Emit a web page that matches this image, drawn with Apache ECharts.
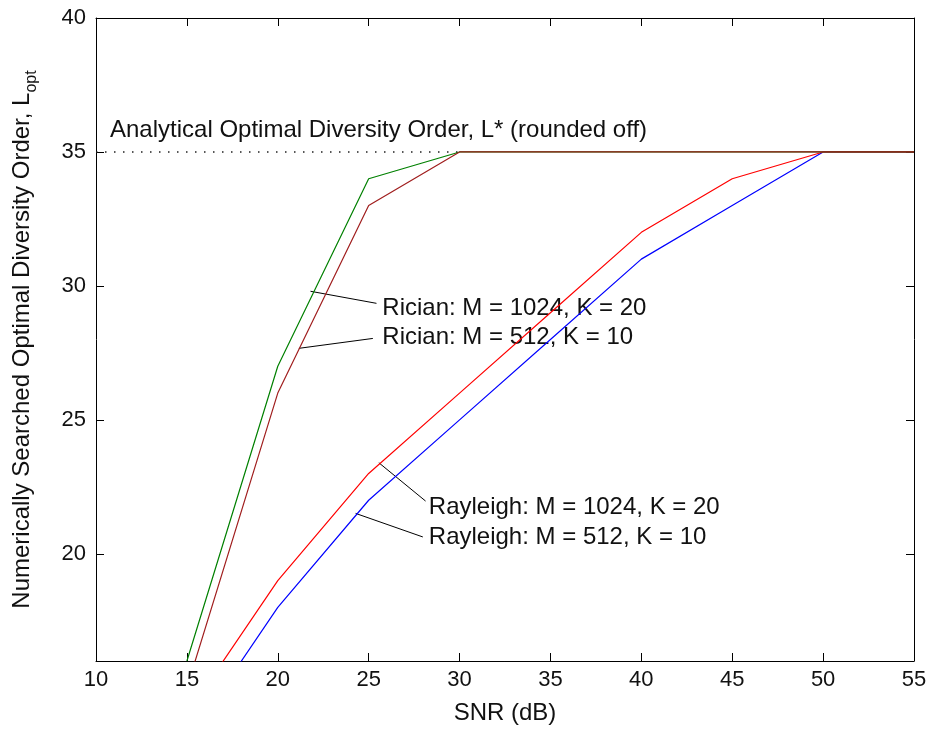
<!DOCTYPE html>
<html>
<head>
<meta charset="utf-8">
<script src="https://cdn.jsdelivr.net/npm/echarts@6/dist/echarts.min.js"></script>
<style>
  html, body { margin: 0; padding: 0; background: #fff; }
  #chart { width: 930px; height: 732px; }
</style>
</head>
<body>
<div id="chart"></div>
<script>
// SNR (dB) sample points
const snr = [15, 20, 25, 30, 35, 40, 45, 50, 55]
// numerically searched optimal diversity order L_opt
const ricianM1024 = [16, 27, 34, 35, 35, 35, 35, 35, 35]
const ricianM512 = [15, 26, 33, 35, 35, 35, 35, 35, 35]
const rayleighM1024 = [14, 19, 23, 26, 29, 32, 34, 35, 35]
const rayleighM512 = [13, 18, 22, 25, 28, 31, 33, 35, 35]
// analytical optimum L* (dotted reference)
const analyticalSnr = [10, 30]
const analyticalL = 35
const yTicks = [20, 25, 30, 35, 40]

// annotation texts, leader lines in data coords
const notes = [
  { text: 'Rician: M = 1024, K = 20', from: [21.8, 29.8], to: [25.43, 29.35], at: [25.75, 29.18] },
  { text: 'Rician: M = 512, K = 10', from: [21.16, 27.67], to: [25.23, 28.04], at: [25.75, 28.07] },
  { text: 'Rayleigh: M = 1024, K = 20', from: [25.56, 23.4], to: [28.13, 21.97], at: [28.31, 21.74] },
  { text: 'Rayleigh: M = 512, K = 10', from: [24.28, 21.51], to: [27.98, 20.63], at: [28.31, 20.62] }
]
const analyticalNote = { text: 'Analytical Optimal Diversity Order, L* (rounded off)', at: [10.77, 35.79] }

const FONT = "'Liberation Sans', Arial, sans-serif"
const pair = (xs, ys) => xs.map((x, i) => [x, ys[i]])

const chart = echarts.init(document.getElementById('chart'))

const option = {
  animation: false,
  backgroundColor: '#fff',
  textStyle: { fontFamily: FONT },
  grid: { left: 96, right: 16, top: 18, bottom: 71, outerBoundsMode: 'none' },
  xAxis: [
    {
      type: 'value', min: 10, max: 55, interval: 5, position: 'bottom',
      name: 'SNR (dB)', nameLocation: 'middle', nameGap: 40,
      nameTextStyle: { fontSize: 24, color: '#111', fontFamily: FONT },
      axisLine: { show: true, lineStyle: { color: '#000', width: 1 } },
      axisTick: { show: true, inside: true, length: 8, lineStyle: { color: '#000' } },
      axisLabel: { fontSize: 22, color: '#111', margin: 8, fontFamily: FONT },
      splitLine: { show: false }
    },
    {
      type: 'value', min: 10, max: 55, interval: 5, position: 'top',
      axisLine: { show: true, lineStyle: { color: '#000', width: 1 } },
      axisTick: { show: true, inside: true, length: 8, lineStyle: { color: '#000' } },
      axisLabel: { show: false },
      splitLine: { show: false }
    }
  ],
  yAxis: [
    {
      type: 'value', min: 16, max: 40, position: 'left',
      name: '{a|Numerically Searched Optimal Diversity Order, L}{b|opt}',
      nameLocation: 'middle', nameGap: 56,
      nameTextStyle: {
        color: '#111',
        rich: {
          a: { fontSize: 24, fontFamily: FONT, color: '#111' },
          b: { fontSize: 16, fontFamily: FONT, color: '#111', padding: [20, 0, 0, 0] }
        }
      },
      axisLine: { show: true, lineStyle: { color: '#000', width: 1 } },
      axisTick: { show: true, inside: true, length: 8, customValues: yTicks, lineStyle: { color: '#000' } },
      axisLabel: { fontSize: 22, color: '#111', margin: 10, customValues: yTicks, fontFamily: FONT },
      splitLine: { show: false }
    },
    {
      type: 'value', min: 16, max: 40, position: 'right',
      axisLine: { show: true, lineStyle: { color: '#000', width: 1 } },
      axisTick: { show: true, inside: true, length: 8, customValues: yTicks, lineStyle: { color: '#000' } },
      axisLabel: { show: false },
      splitLine: { show: false }
    }
  ],
  series: [
    {
      name: 'L*', type: 'line', silent: true, symbol: 'none',
      data: analyticalSnr.map(x => [x, analyticalL]),
      lineStyle: { color: '#222', width: 1.5, type: [1.5, 7.5] }
    },
    {
      name: 'Rayleigh M=512', type: 'line', symbol: 'none', data: pair(snr, rayleighM512),
      lineStyle: { color: '#0000ff', width: 1.2 }
    },
    {
      name: 'Rayleigh M=1024', type: 'line', symbol: 'none', data: pair(snr, rayleighM1024),
      lineStyle: { color: '#ff0000', width: 1.2 }
    },
    {
      name: 'Rician M=1024', type: 'line', symbol: 'none', data: pair(snr, ricianM1024),
      lineStyle: { color: '#008000', width: 1.2 }
    },
    {
      name: 'Rician M=512', type: 'line', symbol: 'none', data: pair(snr, ricianM512),
      lineStyle: { color: '#a01e1e', width: 1.2 }
    }
  ]
}
chart.setOption(option)

// annotations are placed after layout, using the chart's own scale
const px = p => chart.convertToPixel({ gridIndex: 0 }, p)
const graphic = []
notes.forEach(n => {
  const a = px(n.from)
  const b = px(n.to)
  const t = px(n.at)
  graphic.push({
    type: 'line', silent: true,
    shape: { x1: a[0], y1: a[1], x2: b[0], y2: b[1] },
    style: { stroke: '#000', lineWidth: 1 }
  })
  graphic.push({
    type: 'text', silent: true, x: t[0], y: t[1],
    style: { text: n.text, fontSize: 24, fontFamily: FONT, fill: '#111', align: 'left', verticalAlign: 'middle' }
  })
})
const an = px(analyticalNote.at)
graphic.push({
  type: 'text', silent: true, x: an[0], y: an[1],
  style: { text: analyticalNote.text, fontSize: 24, fontFamily: FONT, fill: '#111', align: 'left', verticalAlign: 'middle' }
})
chart.setOption({ graphic: graphic })
</script>
</body>
</html>
